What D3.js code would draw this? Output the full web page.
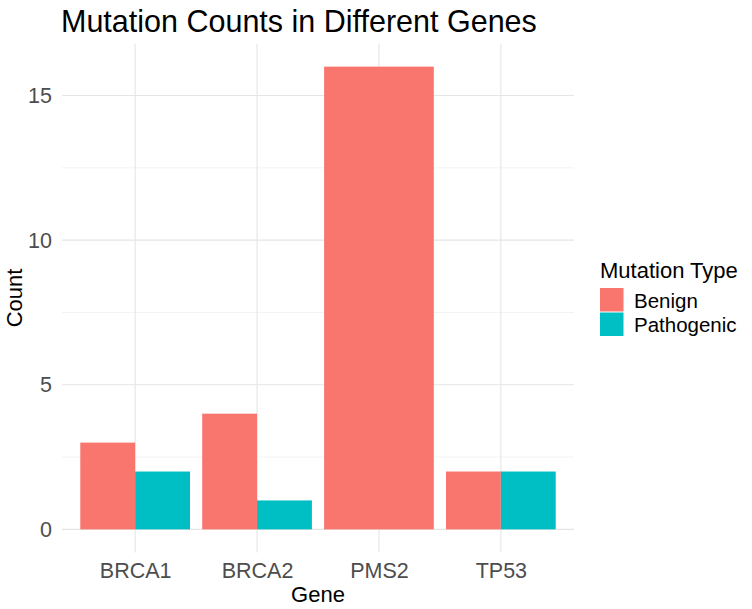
<!DOCTYPE html>
<html>
<head>
<meta charset="utf-8">
<script src="https://cdn.jsdelivr.net/npm/d3@7"></script>
<style>
  body { margin: 0; background: #fff; }
  svg text { font-family: "Liberation Sans", Arial, sans-serif; }
</style>
</head>
<body>
<svg id="chart" width="752" height="609"></svg>
<script>
var genes = ["BRCA1", "BRCA2", "PMS2", "TP53"];
var benign = [3, 4, 16, 2];
var pathogenic = [2, 1, null, 2];   // PMS2 has no pathogenic rows
var types = ["Benign", "Pathogenic"];
var colors = ["#F8766D", "#00BFC4"];
var yTicks = [0, 5, 10, 15];
var yMinor = [2.5, 7.5, 12.5];

var svg = d3.select("#chart");
var padL = 62, padR = 574, padT = 43.5, padB = 552.5;

// discrete x like ggplot: 0.6 unit padding each side
var x = d3.scalePoint().domain(genes).range([padL, padR]).padding(0.6);
var step = x.step();
var y = d3.scaleLinear().domain([-0.8, 16.8]).range([padB, padT]);

var grid = svg.append("g");
grid.selectAll(".minor").data(yMinor).enter().append("line")
  .attr("x1", padL).attr("x2", padR)
  .attr("y1", function(d) { return y(d); }).attr("y2", function(d) { return y(d); })
  .style("stroke", "#ebebeb").style("stroke-width", 0.6);
grid.selectAll(".major").data(yTicks).enter().append("line")
  .attr("x1", padL).attr("x2", padR)
  .attr("y1", function(d) { return y(d); }).attr("y2", function(d) { return y(d); })
  .style("stroke", "#e5e5e5").style("stroke-width", 1.1);
grid.selectAll(".vmajor").data(genes).enter().append("line")
  .attr("y1", padT).attr("y2", padB)
  .attr("x1", function(d) { return x(d); }).attr("x2", function(d) { return x(d); })
  .style("stroke", "#e5e5e5").style("stroke-width", 1.1);

// build dodged bars
var bars = [];
genes.forEach(function(g, i) {
  var vals = [benign[i], pathogenic[i]];
  var present = [];
  vals.forEach(function(v, k) { if (v != null) present.push(k); });
  var w = 0.9 * step / present.length;
  present.forEach(function(k, j) {
    bars.push({ gene: g, type: types[k], value: vals[k], color: colors[k],
      x0: x(g) - 0.45 * step + j * w, w: w });
  });
});

svg.append("g").selectAll("rect").data(bars).enter().append("rect")
  .attr("x", function(d) { return d.x0; })
  .attr("width", function(d) { return d.w; })
  .attr("y", function(d) { return y(d.value); })
  .attr("height", function(d) { return y(0) - y(d.value); })
  .style("fill", function(d) { return d.color; });

// axes (no lines, just labels)
var yAxis = svg.append("g").attr("transform", "translate(" + padL + ",0)")
  .call(d3.axisLeft(y).tickValues(yTicks).tickSize(0).tickPadding(10));
yAxis.select(".domain").remove();
yAxis.selectAll("text").style("font-size", "21.5px").style("fill", "#4d4d4d");

var xAxis = svg.append("g").attr("transform", "translate(0," + padB + ")")
  .call(d3.axisBottom(x).tickSize(0).tickPadding(10));
xAxis.select(".domain").remove();
xAxis.selectAll("text").style("font-size", "21.5px").style("fill", "#4d4d4d");

// titles
svg.append("text").attr("x", 61).attr("y", 32)
  .style("font-size", "30.5px").style("fill", "#000")
  .text("Mutation Counts in Different Genes");
svg.append("text").attr("x", (padL + padR) / 2).attr("y", 602)
  .attr("text-anchor", "middle").style("font-size", "22px").style("fill", "#000")
  .text("Gene");
svg.append("text").attr("transform", "translate(22," + (padT + padB) / 2 + ") rotate(-90)")
  .attr("text-anchor", "middle").style("font-size", "22px").style("fill", "#000")
  .text("Count");

// legend
var lg = svg.append("g").attr("transform", "translate(600,0)");
lg.append("text").attr("x", 0).attr("y", 278)
  .style("font-size", "22px").style("fill", "#000").text("Mutation Type");
var items = lg.selectAll(".item").data(types).enter().append("g")
  .attr("transform", function(d, i) { return "translate(0," + (288 + i * 24.5) + ")"; });
items.append("rect").attr("width", 23.5).attr("height", 23.5)
  .style("fill", function(d, i) { return colors[i]; });
items.append("text").attr("x", 34).attr("y", 19.5)
  .style("font-size", "20.5px").style("fill", "#000")
  .text(function(d) { return d; });
</script>
</body>
</html>
